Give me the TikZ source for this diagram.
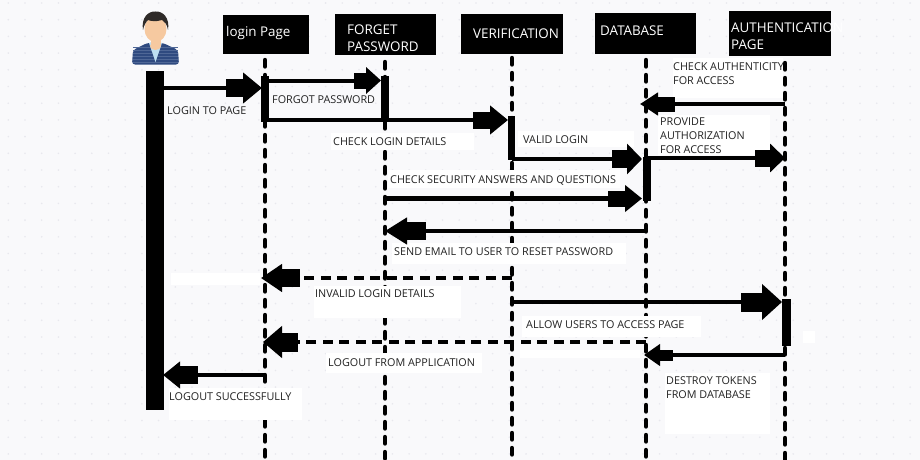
\documentclass[tikz,border=0pt]{standalone}
\usepackage{fontspec}
\setmainfont{Open Sans}
\usetikzlibrary{arrows.meta}
\definecolor{bgc}{HTML}{F9F9FB}
\definecolor{dotc}{HTML}{E8E8EE}
\definecolor{txt}{HTML}{222222}
\definecolor{jacket}{HTML}{2F4A80}
\definecolor{stripe}{HTML}{4F6796}
\definecolor{skin}{HTML}{F6C9A0}
\definecolor{hair}{HTML}{2E2A28}
\definecolor{shirt}{HTML}{BFE0F2}
\tikzset{
  x=1pt,y=-1pt,
  hdr/.style={text=white,inner sep=0pt,font=\fontsize{13.4}{17}\selectfont,align=left,anchor=west},
  hbox/.style={fill=black,draw=none},
  life/.style={line width=4.4pt,line cap=round,dash pattern=on 6.5pt off 8.5pt},
  bar/.style={fill=black,draw=none},
  patch/.style={fill=white,draw=none},
  lbl/.style={inner sep=0pt,text=txt,font=\fontsize{10.8}{14}\selectfont,align=left,anchor=west},
  sl/.style={lbl,anchor=base west},
  msg/.style={line width=4.6pt},
  dmsg/.style={line width=4.6pt,dash pattern=on 10pt off 6.5pt},
}
\begin{document}
\begin{tikzpicture}
\useasboundingbox (0,0) rectangle (920,460);
\fill[bgc] (0,0) rectangle (920,460);
% background dots
\foreach \i in {0,...,54}{\foreach \j in {0,...,27}{
  \fill[dotc] ({8.3+16.7*\i},{3+16.7*\j}) circle (0.9pt);}}

% header boxes
\fill[hbox] (223,15) rectangle (309,54);
\fill[hbox] (335,14) rectangle (436,55);
\fill[hbox] (461,14) rectangle (563,54);
\fill[hbox] (595,13) rectangle (696,54);
\fill[hbox] (729,11) rectangle (831,56);

% lifeline anchors
\coordinate (lpT) at (265,60);   \coordinate (lpB) at (265,462);
\coordinate (fpT) at (385,62);   \coordinate (fpB) at (385,462);
\coordinate (veT) at (512,58);   \coordinate (veB) at (512,462);
\coordinate (dbT) at (646,60);   \coordinate (dbB) at (646,462);
\coordinate (auT) at (785,63);   \coordinate (auB) at (785,462);
\draw[life] (lpT) -- (lpB);
\draw[life] (fpT) -- (fpB);
\draw[life] (veT) -- (veB);
\draw[life] (dbT) -- (dbB);
\draw[life] (auT) -- (auB);

% white patches behind labels
\fill[patch] (673,58) rectangle (783,98);
\fill[patch] (658,115) rectangle (770,155);
\fill[patch] (331,133) rectangle (474,150);
\fill[patch] (518,131) rectangle (634,147);
\fill[patch] (388,170) rectangle (620,188);
\fill[patch] (392,243) rectangle (626,264);
\fill[patch] (171,273) rectangle (260,285);
\fill[patch] (314,286) rectangle (461,318);
\fill[patch] (522,316) rectangle (701,337);
\fill[patch] (803,331) rectangle (815,343);
\fill[patch] (326,353) rectangle (482,373);
\fill[patch] (520,350) rectangle (640,358);
\fill[patch] (169,388) rectangle (302,420);
\fill[patch] (665,373) rectangle (770,434);

% activation bars
\fill[bar] (146,71) rectangle (164,410);
\fill[bar] (261,76) rectangle (269,122);
\fill[bar] (381,76) rectangle (389,122);
\fill[bar] (508,116) rectangle (515,160);
\fill[bar] (643,157) rectangle (651,201);
\fill[bar] (782,299) rectangle (791,346);

% message end points
\coordinate (m1a) at (163,88);  \coordinate (m1b) at (262,88);
\coordinate (m2a) at (265,80.5);\coordinate (m2b) at (381,80.5);
\coordinate (m3a) at (265,120); \coordinate (m3b) at (508,120);
\coordinate (m4a) at (512,159); \coordinate (m4b) at (642,159);
\coordinate (m5a) at (646,158); \coordinate (m5b) at (785,158);
\coordinate (m6a) at (785,104); \coordinate (m6b) at (640,104);
\coordinate (m7a) at (385,198.5); \coordinate (m7b) at (642,198.5);
\coordinate (m8a) at (646,231); \coordinate (m8b) at (385,231);
\coordinate (m9a) at (512,278); \coordinate (m9b) at (261,278);
\coordinate (m10a) at (512,302);\coordinate (m10b) at (782,302);
\coordinate (m11a) at (646,342);\coordinate (m11b) at (263,342);
\coordinate (m12a) at (785,355);\coordinate (m12b) at (644,355);
\coordinate (m13a) at (265,375);\coordinate (m13b) at (163,375);

\draw[msg,-{Rectangle[length=17pt,width=18pt]Triangle[length=19pt,width=30pt]}] (m1a) -- (m1b);
\draw[msg,line width=4pt,-{Rectangle[length=12pt,width=16pt]Triangle[length=15pt,width=26pt]}] (m2a) -- (m2b);
\draw[msg,-{Rectangle[length=17pt,width=17pt]Triangle[length=18pt,width=28pt]}] (m3a) -- (m3b);
\draw[msg,-{Rectangle[length=15pt,width=18pt]Triangle[length=15pt,width=30pt]}] (m4a) -- (m4b);
\draw[msg,-{Rectangle[length=15pt,width=17pt]Triangle[length=15pt,width=28pt]}] (m5a) -- (m5b);
\draw[msg,-{Rectangle[length=17pt,width=15pt]Triangle[length=18pt,width=22pt]}] (m6a) -- (m6b);
\draw[msg,-{Rectangle[length=17pt,width=16pt]Triangle[length=17pt,width=26pt]}] (m7a) -- (m7b);
\draw[msg,-{Rectangle[length=19pt,width=18pt]Triangle[length=22pt,width=26pt]}] (m8a) -- (m8b);
\draw[dmsg,-{Rectangle[length=18pt,width=18pt]Triangle[length=21pt,width=27pt]}] (m9a) -- (m9b);
\draw[msg,-{Rectangle[length=21pt,width=19pt]Triangle[length=20pt,width=35pt]}] (m10a) -- (m10b);
\draw[dmsg,-{Rectangle[length=16pt,width=19pt]Triangle[length=19pt,width=31pt]}] (m11a) -- (m11b);
\draw[msg,-{Rectangle[length=13pt,width=11pt]Triangle[length=16pt,width=21pt]}] (m12a) -- (m12b);
\draw[msg,-{Rectangle[length=18pt,width=18pt]Triangle[length=17pt,width=26pt]}] (m13a) -- (m13b);

% person icon
\fill[jacket,rounded corners=3pt] (132,64.5) -- (133,50) -- (147,43) -- (163,43) -- (178,50) -- (179,64.5) -- cycle;
\foreach \yy in {47,50,53,56,59,62}{\draw[stripe,line width=0.5pt] (133,\yy) -- (178,\yy);}
\fill[shirt] (149,43) -- (162,43) -- (155.5,62) -- cycle;
\fill[skin] (150.5,36) rectangle (160.5,46);
\fill[skin] (155.5,46) ellipse[x radius=5.5pt,y radius=4pt];
\fill[skin] (155.5,29) ellipse[x radius=11pt,y radius=13pt];
\fill[hair] (143,30) .. controls (141,18) and (148,11) .. (155.5,11.5) .. controls (163,11) and (170,18) .. (168,30) .. controls (167,24) and (165,22) .. (162,20) .. controls (156,22) and (150,21) .. (148,20) .. controls (146,22) and (144,25) .. (143,30) -- cycle;

% header text
\node[hdr,anchor=base west] (lp) at (226,37) {login Page};
\node[hdr] (fp) at (347,38.5) {FORGET\\PASSWORD};
\node[hdr,anchor=base west] (ve) at (473,39) {VERIFICATION};
\node[hdr,anchor=base west] (db) at (600,36) {DATABASE};
\node[hdr] (au) at (731,36.5) {AUTHENTICATION\\PAGE};

% labels
\node[sl] (l1) at (167,114) {LOGIN TO PAGE};
\node[sl] (l2) at (272,103) {FORGOT PASSWORD};
\node[sl] (l3) at (333,145) {CHECK LOGIN DETAILS};
\node[sl] (l4) at (523,143) {VALID LOGIN};
\node[lbl] (l5) at (673,73.5) {CHECK AUTHENTICITY\\FOR ACCESS};
\node[lbl] (l6) at (660,136) {PROVIDE\\AUTHORIZATION\\FOR ACCESS};
\node[sl] (l7) at (390,183) {CHECK SECURITY ANSWERS AND QUESTIONS};
\node[sl] (l8) at (394,255) {SEND EMAIL TO USER TO RESET PASSWORD};
\node[sl] (l9) at (315,297) {INVALID LOGIN DETAILS};
\node[sl] (l10) at (526,328) {ALLOW USERS TO ACCESS PAGE};
\node[sl] (l11) at (328,366) {LOGOUT FROM APPLICATION};
\node[sl] (l12) at (169,400) {LOGOUT SUCCESSFULLY};
\node[lbl] (l13) at (666,388) {DESTROY TOKENS\\FROM DATABASE};
\end{tikzpicture}
\end{document}
